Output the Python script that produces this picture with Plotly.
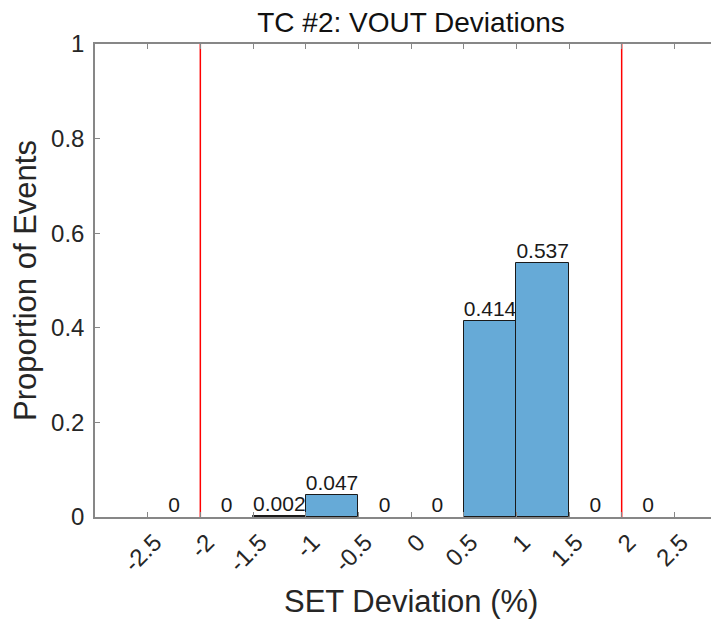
import plotly.graph_objects as go

# ---- data ----
bin_centers = [-2.25, -1.75, -1.25, -0.75, -0.25, 0.25, 0.75, 1.25, 1.75, 2.25]
bin_width = 0.5
proportions = [0, 0, 0.002, 0.047, 0, 0, 0.414, 0.537, 0, 0]
value_labels = ["0", "0", "0.002", "0.047", "0", "0", "0.414", "0.537", "0", "0"]
limit_lines = [-2, 2]
x_tick_vals = [-2.5, -2, -1.5, -1, -0.5, 0, 0.5, 1, 1.5, 2, 2.5]
x_tick_text = ["-2.5", "-2", "-1.5", "-1", "-0.5", "0", "0.5", "1", "1.5", "2", "2.5"]
y_tick_vals = [0, 0.2, 0.4, 0.6, 0.8, 1]
y_tick_text = ["0", "0.2", "0.4", "0.6", "0.8", "1"]

FONT = "Liberation Sans, Arial, Helvetica, sans-serif"
AXIS_COLOR = "#878787"
TEXT_COLOR = "#262626"

fig = go.Figure()

# empty bins are not outlined (histogram draws nothing for them)
edge_widths = [1 if v > 0 else 0 for v in proportions]

fig.add_trace(go.Bar(
    x=bin_centers, y=proportions, width=bin_width,
    marker=dict(color="#66AAD7", line=dict(color="#1a1a1a", width=edge_widths)),
    showlegend=False, hoverinfo="x+y",
))

for xv in limit_lines:
    fig.add_trace(go.Scatter(
        x=[xv, xv], y=[0, 1], mode="lines",
        line=dict(color="#ff0000", width=1.5),
        showlegend=False, hoverinfo="skip",
    ))

fig.add_trace(go.Scatter(
    x=bin_centers, y=proportions, mode="text", text=value_labels,
    textposition="top center",
    textfont=dict(family=FONT, size=21, color="#1a1a1a"),
    showlegend=False, hoverinfo="skip", cliponaxis=False,
))

# page body has an 8px offset; plot area is placed so that it lands where the reference shows it
L, T = 86.5, 35.5
plot_w, plot_h = 634.5, 474
W, H = 721, 621
R = W - L - plot_w
B = H - T - plot_h

fig.update_layout(
    width=W, height=H,
    margin=dict(l=L, r=R, t=T, b=B, pad=0),
    plot_bgcolor="white", paper_bgcolor="white",
    bargap=0,
    font=dict(family=FONT, color=TEXT_COLOR),
    title=dict(text="TC #2: VOUT Deviations", x=0.5, xref="paper",
               y=1 - 14 / H, yanchor="middle", xanchor="center",
               font=dict(family=FONT, size=28, color="#111111")),
    xaxis=dict(
        range=[-3, 3], tickmode="array",
        tickvals=x_tick_vals, ticktext=x_tick_text, tickangle=-45,
        ticks="inside", ticklen=5, tickwidth=1, tickcolor=AXIS_COLOR,
        showline=True, linecolor=AXIS_COLOR, linewidth=1.5, mirror="ticks",
        showgrid=False, zeroline=False,
        ticklabelshift=7,
        tickfont=dict(family=FONT, size=24, color=TEXT_COLOR),
        fixedrange=True,
    ),
    yaxis=dict(
        range=[0, 1], tickmode="array",
        tickvals=y_tick_vals, ticktext=y_tick_text,
        ticks="inside", ticklen=5, tickwidth=1, tickcolor=AXIS_COLOR,
        showline=True, linecolor=AXIS_COLOR, linewidth=1.5, mirror="ticks",
        showgrid=False, zeroline=False,
        ticklabelstandoff=4,
        tickfont=dict(family=FONT, size=24, color=TEXT_COLOR),
        title=dict(text="Proportion of Events", standoff=6,
                   font=dict(family=FONT, size=31, color=TEXT_COLOR)),
        fixedrange=True,
    ),
    annotations=[dict(
        text="SET Deviation (%)", x=0, xref="x",
        y=-(594 - (T + plot_h)) / plot_h,
        yref="paper", showarrow=False, xanchor="center", yanchor="middle",
        font=dict(family=FONT, size=31, color=TEXT_COLOR),
    )],
)

fig.write_html("out.html")
